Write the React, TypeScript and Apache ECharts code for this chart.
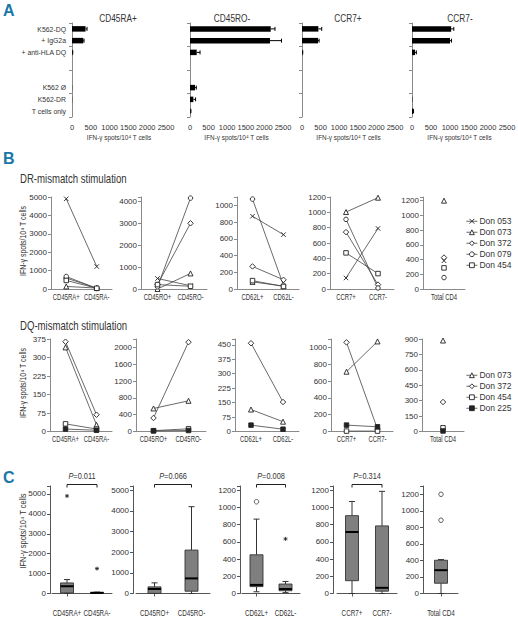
import React, { useEffect, useRef } from 'react';
import * as echarts from 'echarts';

const FONT = "'Liberation Sans',Arial,sans-serif";
const TXT = '#333';
const AXIS = '#8a8a8a';
const BLUE = '#1b77a8';
const Y_NAME = 'IFN-γ spots/10⁴ T cells';

// ---------- Panel A ----------
const aCategories = ['K562-DQ', '+ IgG2a', '+ anti-HLA DQ', '', ' ', 'K562 Ø', 'K562-DR', 'T cells only'];
const aTitles = ['CD45RA+', 'CD45RO-', 'CCR7+', 'CCR7-'];
const aCD45RApos = [360, 300, 15, null, null, 5, 5, 0];
const aCD45RAposErr = [40, 20, 5, null, null, 0, 0, 0];
const aCD45ROneg = [2170, 2150, 180, null, null, 135, 90, 15];
const aCD45ROnegErr = [115, 310, 90, null, null, 35, 60, 10];
const aCCR7pos = [440, 430, 15, null, null, 0, 0, 0];
const aCCR7posErr = [90, 30, 5, null, null, 0, 0, 0];
const aCCR7neg = [1030, 1000, 80, null, null, 0, 10, 35];
const aCCR7negErr = [70, 40, 35, null, null, 0, 0, 5];

// ---------- Panel B ----------
const bCategories = [['CD45RA+', 'CD45RA-'], ['CD45RO+', 'CD45RO-'], ['CD62L+', 'CD62L-'], ['CCR7+', 'CCR7-'], ['Total CD4']];
const drDonors = ['Don 053', 'Don 073', 'Don 372', 'Don 079', 'Don 454'];
const dr053 = [[4900, 1220], [480, 150], [870, 650], [144, 790], [384]];
const dr073 = [[140, 50], [0, 710], [85, 35], [1004, 1191], [1200]];
const dr372 = [[595, 50], [200, 3000], [270, 110], [742, 57], [427]];
const dr079 = [[680, 30], [100, 4150], [1075, 45], [908, 13], [155]];
const dr454 = [[465, 40], [200, 125], [100, 30], [471, 201], [287]];
const drMax = [5000, 4200, 1100, 1200, 1250];
const drInterval = [1000, 1000, 200, 200, 200];

const dqDonors = ['Don 073', 'Don 372', 'Don 454', 'Don 225'];
const dq073 = [[341, 27], [548, 730], [114, 51], [711, 1071], [885]];
const dq372 = [[364, 68], [322, 2125], [458, 153], [1060, 29], [287]];
const dq454 = [[31, 10], [20, 64], [null, null], [5, 5], [36]];
const dq225 = [[10, 5], [15, 24], [33, 12], [76, 56], [5]];
const dqMax = [375, 2200, 480, 1100, 900];
const dqInterval = [75, 400, 75, 200, 150];

// ---------- Panel C ----------  [min, Q1, median, Q3, max]
const cCD45RA = [[0, 30, 365, 530, 700], [0, 5, 30, 60, 70]];
const cCD45RO = [[0, 5, 220, 320, 515], [0, 110, 730, 2100, 4200]];
const cCD62L = [[20, 80, 100, 450, 865], [10, 32, 52, 110, 140]];
const cCCR7 = [[0, 149, 715, 905, 1070], [0, 27, 66, 786, 1188]];
const cTotal = [[0, 124, 282, 402, 410]];
// [category index, value, kind]
const cCD45RAOut = [[0, 4900, 'extreme'], [1, 1250, 'extreme']];
const cCD45ROOut: any[] = [];
const cCD62LOut = [[0, 1067, 'outlier'], [1, 635, 'extreme']];
const cCCR7Out: any[] = [];
const cTotalOut = [[0, 1200, 'outlier'], [0, 886, 'outlier']];
const cPValues = ['0.011', '0.066', '0.008', '0.314', null];
const cMax = [5400, 5200, 1250, 1250, 1300];
const cInterval = [1000, 1000, 200, 200, 200];

// ---------- layout ----------
const A_GRIDS = [[72, 94], [190, 93], [302, 93], [412, 95]];
const DR_GRIDS = [[51, 61], [141, 66], [237, 62], [330, 64], [423, 42]];
const DQ_GRIDS = [[50, 62], [136, 70], [235, 64], [331, 62], [422, 42]];
const C_GRIDS = [[52, 60, 2], [136, 74, 3], [242, 58, 2], [337, 60, 4], [424, 34, 1]];

const X_PATH = 'path://M0,0L10,10M10,0L0,10';
const STAR_PATH = 'path://M5,0L5,10M0,5L10,5M1.5,1.5L8.5,8.5M8.5,1.5L1.5,8.5';
const donorStyle: Record<string, [string, string, number]> = {
  'Don 053': [X_PATH, '#fff', 4.5],
  'Don 073': ['triangle', '#fff', 5],
  'Don 372': ['diamond', '#fff', 5.5],
  'Don 079': ['circle', '#fff', 4.5],
  'Don 454': ['rect', '#fff', 4.5],
  'Don 225': ['rect', '#222', 4.5],
};

const fmt = (iv: number) => (v: number) => (Math.abs(v % iv) < 1e-6 ? String(v) : '');

function buildOption() {
  const grid: any[] = [];
  const xAxis: any[] = [];
  const yAxis: any[] = [];
  const series: any[] = [];
  const graphic: any[] = [];
  const lbl = (size: number, extra: any = {}) => ({ fontSize: size, color: TXT, fontFamily: FONT, ...extra });

  // category labels drawn as condensed text at the axis' own coordinates
  const catLabels = (xi: number, yi: number, cats: string[], horizontal: boolean, o: any) => ({
    type: 'custom', xAxisIndex: xi, yAxisIndex: yi, silent: true, z: 5,
    data: cats.map((c, k) => (horizontal ? [k, 0] : [0, k])),
    encode: { x: 0, y: 1 },
    renderItem: (params: any, api: any) => {
      const p = api.coord([api.value(0), api.value(1)]);
      return {
        type: 'text', x: p[0] + o.dx, y: p[1] + o.dy, scaleX: o.scaleX,
        style: {
          text: cats[params.dataIndex], fill: TXT, fontSize: o.fontSize, fontFamily: FONT,
          align: o.align, verticalAlign: 'middle',
        },
      };
    },
  });

  const addText = (t: string, x: number, y: number, size: number, scaleX: number, extra: any = {}, rotation = 0) =>
    graphic.push({
      type: 'text', x, y, scaleX, rotation, silent: true,
      style: { text: t, fill: TXT, fontSize: size, fontFamily: FONT, align: 'center', verticalAlign: 'middle', ...extra },
    });

  // ----- A -----
  const aVals = [aCD45RApos, aCD45ROneg, aCCR7pos, aCCR7neg];
  const aErrs = [aCD45RAposErr, aCD45ROnegErr, aCCR7posErr, aCCR7negErr];
  aVals.forEach((vals, i) => {
    grid.push({ left: A_GRIDS[i][0], width: A_GRIDS[i][1], top: 23, height: 94, outerBoundsMode: 'none' });
    const gi = grid.length - 1;
    xAxis.push({
      gridIndex: gi, type: 'value', min: 0, max: 2500, interval: 500,
      axisLine: { show: false }, axisTick: { show: false }, splitLine: { show: false },
      axisLabel: lbl(7.5, { margin: 6, formatter: (v: number) => String(v) }),
    });
    yAxis.push({
      gridIndex: gi, type: 'category', data: aCategories, inverse: true,
      axisLine: { show: true, lineStyle: { color: AXIS } },
      axisTick: { show: true, length: 3, lineStyle: { color: AXIS } },
      splitLine: { show: false },
      axisLabel: { show: false },
    });
    const xi = xAxis.length - 1, yi = yAxis.length - 1;
    series.push({ type: 'bar', xAxisIndex: xi, yAxisIndex: yi, data: vals, barWidth: 5.5, itemStyle: { color: '#000' }, silent: true });
    const errData = vals
      .map((v, k) => (v == null || !aErrs[i][k] ? null : [v, k, aErrs[i][k]]))
      .filter((d) => d != null);
    series.push({
      type: 'custom', xAxisIndex: xi, yAxisIndex: yi, data: errData, encode: { x: 0, y: 1 }, silent: true,
      renderItem: (params: any, api: any) => {
        const v = api.value(0), k = api.value(1), e = api.value(2);
        const p0 = api.coord([v, k]);
        const p1 = api.coord([v + e, k]);
        return {
          type: 'group', children: [
            { type: 'line', shape: { x1: p0[0], y1: p0[1], x2: p1[0], y2: p1[1] }, style: { stroke: '#000', lineWidth: 1 } },
            { type: 'line', shape: { x1: p1[0], y1: p1[1] - 2, x2: p1[0], y2: p1[1] + 2 }, style: { stroke: '#000', lineWidth: 1 } },
          ],
        };
      },
    });
    if (i === 0) series.push(catLabels(xi, yi, aCategories, false, { dx: -6, dy: 0, fontSize: 8, scaleX: 0.86, align: 'right' }));
    addText(Y_NAME, A_GRIDS[i][0] + A_GRIDS[i][1] / 2, 137, 8, 0.8);
  });
  const aTitleX = [118, 232, 348, 460];
  aTitles.forEach((t, i) => addText(t, aTitleX[i], 18, 11.5, 0.72));

  // ----- B -----
  const buildRow = (donors: string[], values: any[][][], grids: number[][], top: number, height: number, maxes: number[], ivs: number[]) => {
    grids.forEach((g, p) => {
      grid.push({ left: g[0], width: g[1], top, height, outerBoundsMode: 'none' });
      const gi = grid.length - 1;
      xAxis.push({
        gridIndex: gi, type: 'category', data: bCategories[p], boundaryGap: true,
        axisLine: { show: true, lineStyle: { color: AXIS } }, axisTick: { show: false },
        axisLabel: { show: false }, splitLine: { show: false },
      });
      yAxis.push({
        gridIndex: gi, type: 'value', min: 0, max: maxes[p], interval: ivs[p],
        axisLine: { show: true, lineStyle: { color: AXIS } },
        axisTick: { show: true, length: 3, lineStyle: { color: AXIS } },
        axisLabel: lbl(8, { margin: 4, formatter: fmt(ivs[p]) }),
        splitLine: { show: false },
      });
      const xi = xAxis.length - 1, yi = yAxis.length - 1;
      donors.forEach((d, di) => {
        const st = donorStyle[d];
        series.push({
          type: 'line', name: d, xAxisIndex: xi, yAxisIndex: yi, data: values[di][p],
          symbol: st[0], symbolSize: st[2], showSymbol: true, showAllSymbol: true, connectNulls: false,
          lineStyle: { color: '#444', width: 0.8 },
          itemStyle: { color: st[1], borderColor: '#222', borderWidth: 0.9 },
          silent: true, z: 3,
        });
      });
      series.push(catLabels(xi, yi, bCategories[p], true, { dx: 0, dy: 8, fontSize: 8.5, scaleX: 0.7, align: 'center' }));
    });
  };
  buildRow(drDonors, [dr053, dr073, dr372, dr079, dr454], DR_GRIDS, 197, 92, drMax, drInterval);
  buildRow(dqDonors, [dq073, dq372, dq454, dq225], DQ_GRIDS, 339, 92.5, dqMax, dqInterval);

  // ----- C -----
  const cBoxes = [cCD45RA, cCD45RO, cCD62L, cCCR7, cTotal];
  const cOuts = [cCD45RAOut, cCD45ROOut, cCD62LOut, cCCR7Out, cTotalOut];
  cBoxes.forEach((boxes, p) => {
    const g = C_GRIDS[p];
    grid.push({ left: g[0], width: g[1], top: 486, height: 107.5, outerBoundsMode: 'none' });
    const gi = grid.length - 1;
    xAxis.push({
      gridIndex: gi, type: 'category', data: bCategories[p], boundaryGap: true, offset: 3,
      axisLine: { show: true, lineStyle: { color: '#555' } },
      axisTick: { show: true, alignWithLabel: true, length: 3, lineStyle: { color: '#555' } },
      axisLabel: { show: false }, splitLine: { show: false },
    });
    yAxis.push({
      gridIndex: gi, type: 'value', min: 0, max: cMax[p], interval: cInterval[p], offset: g[2],
      axisLine: { show: true, lineStyle: { color: '#555' } },
      axisTick: { show: true, length: 3, lineStyle: { color: '#555' } },
      axisLabel: lbl(8, { margin: 4, formatter: fmt(cInterval[p]) }),
      splitLine: { show: false },
    });
    const xi = xAxis.length - 1, yi = yAxis.length - 1;
    series.push({
      type: 'custom', xAxisIndex: xi, yAxisIndex: yi, silent: true,
      data: boxes.map((b, k) => [k, ...b]), encode: { x: 0, y: [1, 2, 3, 4, 5] },
      renderItem: (params: any, api: any) => {
        const k = api.value(0);
        const x = api.coord([k, 0])[0];
        const y = (v: number) => api.coord([k, v])[1];
        const mn = y(api.value(1)), q1 = y(api.value(2)), md = y(api.value(3)), q3 = y(api.value(4)), mx = y(api.value(5));
        const hw = 6.5, cw = 3;
        const ln = (x1: number, y1: number, x2: number, y2: number, w = 1, c = '#333') =>
          ({ type: 'line', shape: { x1, y1, x2, y2 }, style: { stroke: c, lineWidth: w } });
        return {
          type: 'group', children: [
            ln(x, mx, x, q3), ln(x, q1, x, mn), ln(x - cw, mx, x + cw, mx), ln(x - cw, mn, x + cw, mn),
            { type: 'rect', shape: { x: x - hw, y: q3, width: hw * 2, height: Math.max(q1 - q3, 1) }, style: { fill: '#7f7f7f', stroke: '#333', lineWidth: 0.9 } },
            ln(x - hw, md, x + hw, md, 2, '#000'),
          ],
        };
      },
    });
    if (cOuts[p].length) {
      series.push({
        type: 'scatter', xAxisIndex: xi, yAxisIndex: yi, silent: true,
        data: cOuts[p].map((o: any) => ({
          value: [o[0], o[1]],
          symbol: o[2] === 'extreme' ? STAR_PATH : 'circle',
          symbolSize: o[2] === 'extreme' ? 4 : 4.5,
          itemStyle: o[2] === 'extreme'
            ? { color: '#222', borderColor: '#222', borderWidth: 1 }
            : { color: '#fff', borderColor: '#333', borderWidth: 1 },
        })),
      });
    }
    if (cPValues[p]) {
      const pv = cPValues[p];
      series.push({
        type: 'custom', xAxisIndex: xi, yAxisIndex: yi, silent: true,
        data: [[0, 1, cMax[p]]], encode: { x: [0, 1], y: 2 },
        renderItem: (params: any, api: any) => {
          const a = api.coord([api.value(0), api.value(2)]);
          const b = api.coord([api.value(1), api.value(2)]);
          const yb = a[1] - 1.5;
          return {
            type: 'group', children: [
              { type: 'polyline', shape: { points: [[a[0], yb + 3], [a[0], yb], [b[0], yb], [b[0], yb + 3]] }, style: { stroke: '#222', lineWidth: 1, fill: 'none' } },
              {
                type: 'text', x: (a[0] + b[0]) / 2, y: yb - 8, scaleX: 0.82,
                style: {
                  text: '{i|P}=' + pv, fill: TXT, fontSize: 9, fontFamily: FONT, align: 'center', verticalAlign: 'middle',
                  rich: { i: { fontStyle: 'italic', fontSize: 9, fontFamily: FONT, fill: TXT } },
                },
              },
            ],
          };
        },
      });
    }
    series.push(catLabels(xi, yi, bCategories[p], true, { dx: 0, dy: 19.5, fontSize: 9, scaleX: 0.7, align: 'center' }));
  });

  // ----- static labels -----
  const letter = (t: string, y: number) => ({
    type: 'text', x: 3, y, silent: true,
    style: { text: t, fill: BLUE, fontSize: 16, fontWeight: 'bold', fontFamily: FONT, align: 'left', verticalAlign: 'top' },
  });
  graphic.push(letter('A', 2), letter('B', 150), letter('C', 469));
  addText('DR-mismatch stimulation', 20, 179, 12, 0.8, { align: 'left' });
  addText('DQ-mismatch stimulation', 20, 326, 12, 0.8, { align: 'left' });
  addText(Y_NAME, 23, 241, 8.5, 0.82, {}, Math.PI / 2);
  addText(Y_NAME, 23, 383, 8.5, 0.82, {}, Math.PI / 2);
  addText(Y_NAME, 23, 531, 8.5, 0.88, {}, Math.PI / 2);

  const legendItem = (d: string) => ({
    name: d,
    itemStyle: { color: donorStyle[d][1], borderColor: '#222', borderWidth: 0.9 },
    lineStyle: { color: '#444', width: 0.8 },
  });
  const legendBase = {
    orient: 'vertical', itemWidth: 11, itemHeight: 6, itemGap: 0.5, selectedMode: false,
    textStyle: { fontSize: 8.5, lineHeight: 10.5, color: TXT, fontFamily: FONT, padding: [0, 0, 0, -3] },
  };
  const legend = [
    { ...legendBase, data: drDonors.map(legendItem), left: 461, top: 211 },
    { ...legendBase, data: dqDonors.map(legendItem), left: 461, top: 365 },
  ];

  return { animation: false, backgroundColor: '#fff', grid, xAxis, yAxis, series, graphic, legend };
}

export default function App() {
  const ref = useRef<HTMLDivElement>(null);
  useEffect(() => {
    document.body.style.margin = '0';
    const chart = echarts.init(ref.current!, null, { renderer: 'svg' });
    chart.setOption(buildOption() as any);
    return () => chart.dispose();
  }, []);
  return <div ref={ref} style={{ width: 518, height: 622 }} />;
}
